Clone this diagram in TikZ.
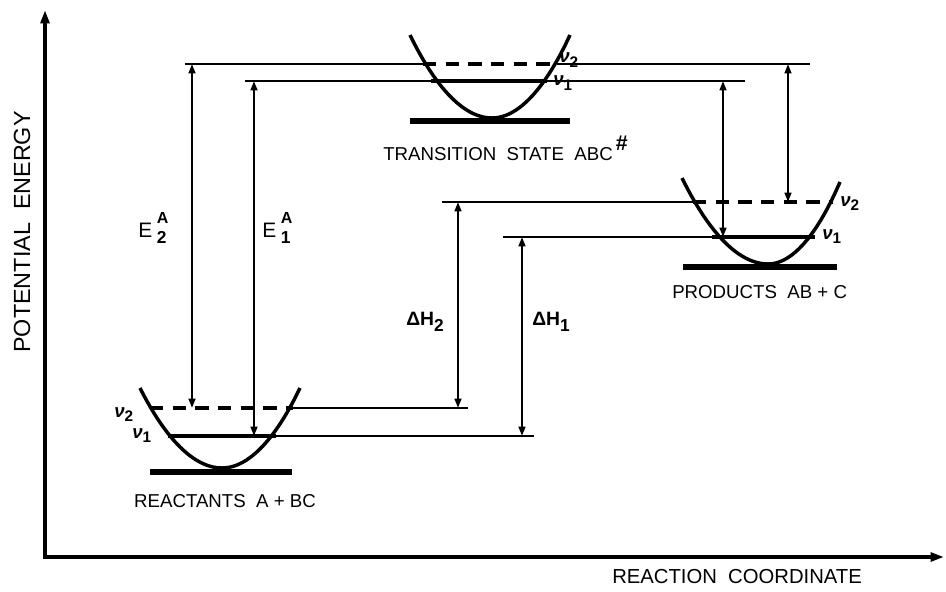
\documentclass[tikz,border=0pt]{standalone}
\usepackage{fontspec}
\setmainfont{Liberation Sans}
\usetikzlibrary{arrows.meta, positioning}

\newcommand{\vib}[1]{{\fontsize{14}{14}\selectfont\bfseries\itshape ν}\raisebox{-3.5pt}{\fontsize{11.5}{11.5}\selectfont\bfseries #1}}
\newcommand{\actE}[1]{{\fontsize{15.7}{18}\selectfont E}\kern3.5pt\rlap{\raisebox{10.5pt}{\fontsize{12}{12}\selectfont\bfseries A}}\raisebox{-4.5pt}{\fontsize{13}{13}\selectfont\bfseries #1}}
\newcommand{\enth}[1]{{\fontsize{14.5}{15}\selectfont\bfseries ΔH}\raisebox{-5pt}{\fontsize{13}{13}\selectfont\bfseries #1}}

\tikzset{
  well/.style={line width=2.6pt},
  base/.style={line width=4.4pt},
  lvl/.style={line width=2.6pt},
  lvldash/.style={line width=2.6pt, dash pattern=on 10pt off 7pt},
  guide/.style={line width=1.3pt},
  span/.style={line width=1.7pt, {Triangle[length=7pt,width=5pt]}-{Triangle[length=7pt,width=5pt]}},
  axis/.style={line width=2.6pt, {Triangle[length=10pt,width=6.5pt]}-{Triangle[length=10pt,width=6.5pt]}},
  lbl/.style={font=\fontsize{14}{16}\selectfont, inner sep=0pt},
  sym/.style={inner sep=0pt, anchor=base west},
}

\begin{document}
\begin{tikzpicture}[x=0.75pt, y=-0.75pt]
  \useasboundingbox (0,0) rectangle (946,592);

  % axes
  \coordinate (ytip) at (45,10);
  \coordinate (orig) at (45,557);
  \coordinate (xtip) at (944,557);
  \draw[axis] (ytip) -- (orig) -- (xtip);
  \node[lbl, font=\fontsize{17.5}{20}\selectfont, rotate=90] (ylab) at (22,232) {POTENTIAL~~ENERGY};
  \node[lbl, font=\fontsize{15.2}{18}\selectfont, anchor=base west] (xlab) at (612,583) {REACTION~~COORDINATE};

  % reactants
  \coordinate (rL) at (140,388);
  \coordinate (rB) at (222,468);
  \coordinate (rR) at (300,388);
  \draw[well] (rL) parabola bend (rB) (rR);
  \draw[base] (150,472) -- (292,472);
  \coordinate (r2L) at (150,408); \coordinate (r2R) at (293,408);
  \coordinate (r1L) at (168,436); \coordinate (r1R) at (276,436);
  \draw[lvldash] (r2L) -- (r2R);
  \draw[lvl] (r1L) -- (r1R);
  \node[lbl, anchor=base] (rlab) at (225,507) {REACTANTS~~A + BC};

  % transition state
  \coordinate (tL) at (410,35);
  \coordinate (tB) at (492,118);
  \coordinate (tR) at (570,35);
  \draw[well] (tL) parabola bend (tB) (tR);
  \draw[base] (410,121) -- (570,121);
  \coordinate (t2L) at (423,64); \coordinate (t2R) at (557,64);
  \coordinate (t1L) at (431,81); \coordinate (t1R) at (547,81);
  \draw[lvldash] (t2L) -- (t2R);
  \draw[lvl] (t1L) -- (t1R);
  \node[lbl, anchor=base west] (tlab) at (383,160) {TRANSITION~~STATE~~ABC\,\raisebox{1.0ex}{\fontsize{16}{16}\selectfont\bfseries\#}};

  % products
  \coordinate (pL) at (682,178);
  \coordinate (pB) at (768,264);
  \coordinate (pR) at (840,182);
  \draw[well] (pL) parabola bend (pB) (pR);
  \draw[base] (683,267) -- (837,267);
  \coordinate (p2L) at (693,202); \coordinate (p2R) at (833,202);
  \coordinate (p1L) at (712,237); \coordinate (p1R) at (815,237);
  \draw[lvldash] (p2L) -- (p2R);
  \draw[lvl] (p1L) -- (p1R);
  \node[lbl, anchor=base west] (plab) at (672,298) {PRODUCTS~~AB + C};

  % vibrational labels
  \node[sym] (rv2) at (114,417) {\vib{2}};
  \node[sym] (rv1) at (132,438) {\vib{1}};
  \node[sym] (tv2) at (559,63) {\vib{2}};
  \node[sym] (tv1) at (553,86) {\vib{1}};
  \node[sym] (pv2) at (840,206) {\vib{2}};
  \node[sym] (pv1) at (822,239) {\vib{1}};

  % guide lines
  \coordinate (gt2a) at (185,64);  \coordinate (gt2b) at (810,64);
  \coordinate (gt1a) at (245,81);  \coordinate (gt1b) at (745,81);
  \coordinate (gp2) at (442,202);  \coordinate (gp1) at (503,237);
  \coordinate (gr2) at (468,408);  \coordinate (gr1) at (534,436);
  \draw[guide] (gt2a) -- (t2L);
  \draw[guide] (t2R) -- (gt2b);
  \draw[guide] (gt1a) -- (t1L);
  \draw[guide] (t1R) -- (gt1b);
  \draw[guide] (gp2) -- (p2L);
  \draw[guide] (gp1) -- (p1L);
  \draw[guide] (r2R) -- (gr2);
  \draw[guide] (r1R) -- (gr1);

  % energy spans
  \coordinate (xE2) at (192,0);
  \coordinate (xE1) at (254,0);
  \coordinate (xH2) at (458,0);
  \coordinate (xH1) at (522,0);
  \coordinate (xP1) at (723,0);
  \coordinate (xP2) at (788,0);
  \draw[span] (xE2 |- t2L) -- (xE2 |- r2L);
  \draw[span] (xE1 |- t1L) -- (xE1 |- r1L);
  \draw[span] (xH2 |- p2L) -- (xH2 |- r2L);
  \draw[span] (xH1 |- p1L) -- (xH1 |- r1L);
  \draw[span] (xP1 |- t1L) -- (xP1 |- p1L);
  \draw[span] (xP2 |- t2L) -- (xP2 |- p2L);

  \node[sym] (E2lab) at (138,237) {\actE{2}};
  \node[sym] (E1lab) at (262,237) {\actE{1}};
  \node[sym] (H2lab) at (406,325) {\enth{2}};
  \node[sym] (H1lab) at (532,325) {\enth{1}};
\end{tikzpicture}
\end{document}
